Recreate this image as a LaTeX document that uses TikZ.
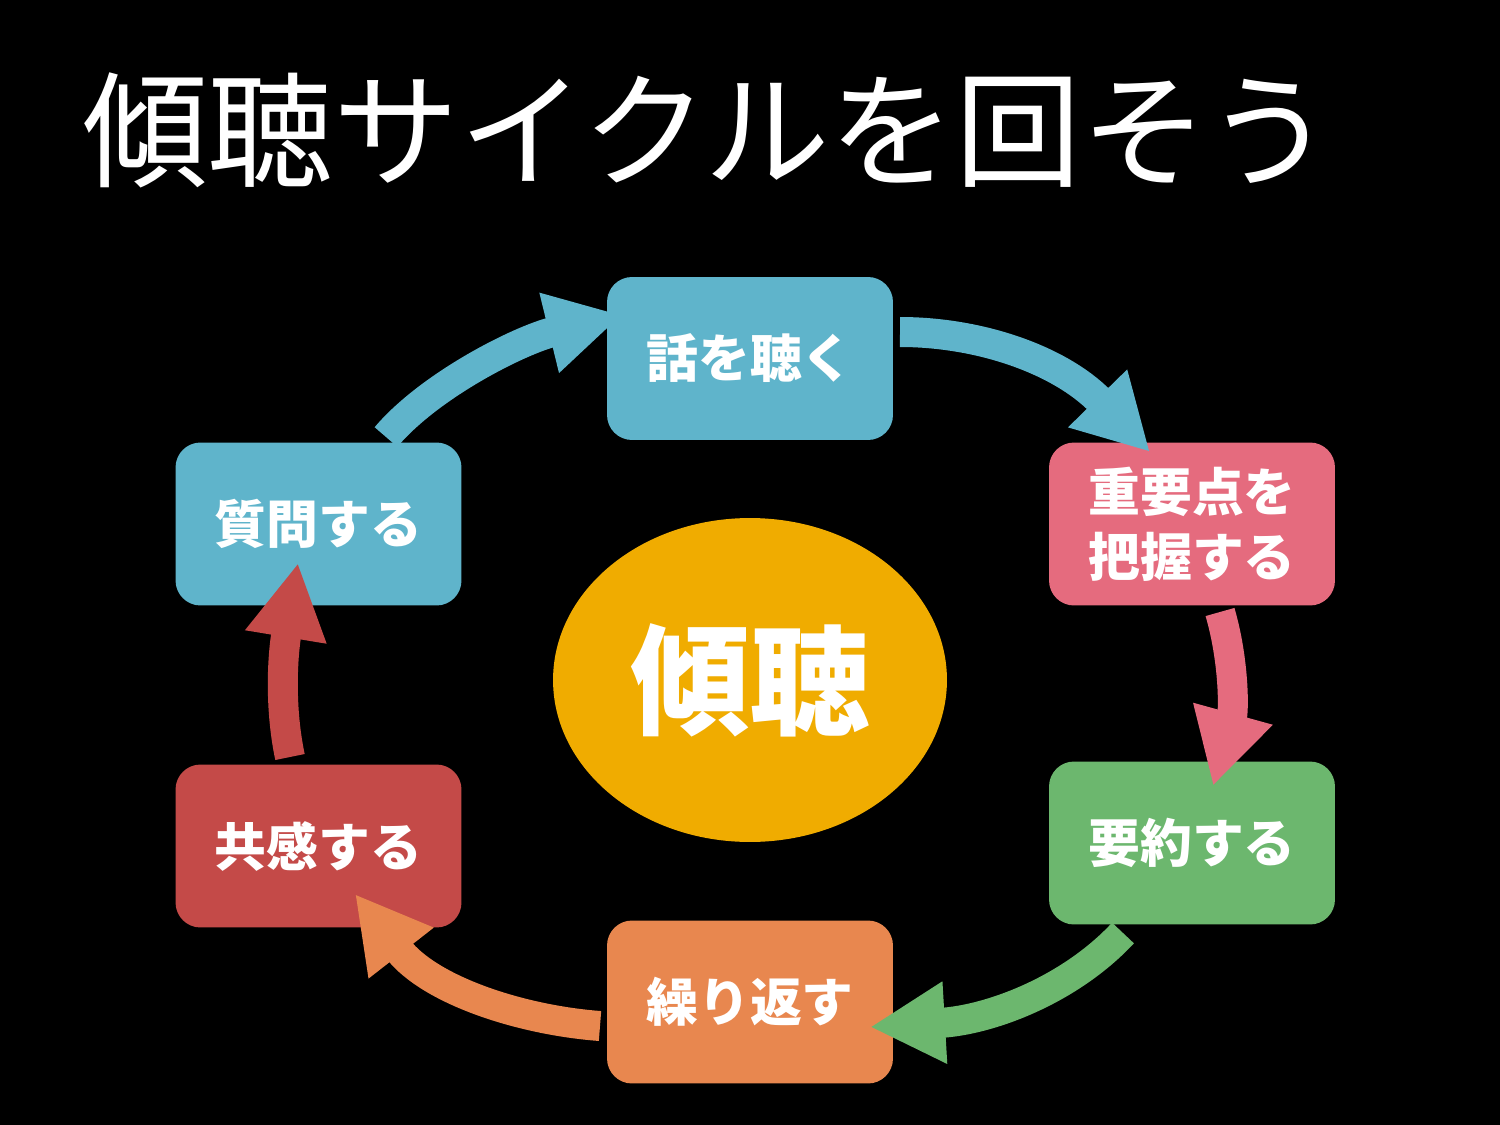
\documentclass[tikz,border=0pt]{standalone}
\usepackage{fontspec}
\newfontfamily\jp{Noto Sans CJK JP}
\usetikzlibrary{arrows.meta,shapes.geometric}
\definecolor{cblue}{HTML}{5FB4CB}
\definecolor{cpink}{HTML}{E56B7E}
\definecolor{cgreen}{HTML}{6CB76E}
\definecolor{corange}{HTML}{E8874F}
\definecolor{cred}{HTML}{C44A48}
\definecolor{cyell}{HTML}{F0AC00}
\begin{document}
\begin{tikzpicture}[x=0.02cm,y=-0.02cm,
  box/.style={rectangle,rounded corners=0.5cm,minimum width=5.72cm,minimum height=3.26cm,inner sep=0pt},
  lbl/.style={text=white,font=\jp\bfseries\fontsize{29.5}{37}\selectfont,align=center,inner sep=0pt},
  arr/.style={line width=0.6cm,-{Triangle[length=1.5cm,width=1.54cm]}}]
\fill[black] (0,0) rectangle (1500,1125);
\useasboundingbox (0,0) rectangle (1500,1125);
% title
\node[anchor=west,inner sep=0pt,text=white,font=\jp\fontsize{71.5}{82}\selectfont] (title) at (82,130) {傾聴サイクルを回そう};
% center
\node[ellipse,fill=cyell,minimum width=7.88cm,minimum height=6.48cm,inner sep=0pt] (c) at (750,680) {};
% boxes
\node[box,fill=cblue] (b1) at (750,358.5) {};
\node[box,fill=cpink] (b2) at (1192,524) {};
\node[box,fill=cgreen] (b3) at (1192,843) {};
\node[box,fill=corange] (b4) at (750,1002) {};
\node[box,fill=cred] (b5) at (318.5,846) {};
\node[box,fill=cblue] (b6) at (318.5,524) {};
% arrow ends
\coordinate (a1s) at (386,437);  \coordinate (a1e) at (622,315);
\coordinate (a2s) at (900,332);  \coordinate (a2e) at (1150,452);
\coordinate (a3s) at (1220,612); \coordinate (a3e) at (1213,786);
\coordinate (a4s) at (1123,933); \coordinate (a4e) at (870,1027);
\coordinate (a5s) at (600,1026); \coordinate (a5e) at (355,894);
\coordinate (a6s) at (290,757);  \coordinate (a6e) at (298,563);
\draw[arr,cblue] (a1s) .. controls (430,385) and (520,340) .. (a1e);
\draw[arr,cblue] (a2s) .. controls (980,332) and (1060,360) .. (a2e);
\draw[arr,cpink] (a3s) .. controls (1234,660) and (1234,710) .. (a3e);
\draw[arr,cgreen] (a4s) .. controls (1070,990) and (990,1020) .. (a4e);
\draw[arr,corange] (a5s) .. controls (520,1020) and (430,990) .. (a5e);
\draw[arr,cred] (a6s) .. controls (280,710) and (282,660) .. (a6e);
% labels
\foreach \n/\t in {b1/話を聴く,b2/{重要点を\\把握する},b3/要約する,b4/繰り返す,b5/共感する,b6/質問する}{
  \node[lbl] (t\n) at (\n.center) {\t};
}
\node[text=white,inner sep=0pt,font=\jp\bfseries\fontsize{68}{80}\selectfont] (ct) at (c.center) {傾聴};
\end{tikzpicture}
\end{document}
